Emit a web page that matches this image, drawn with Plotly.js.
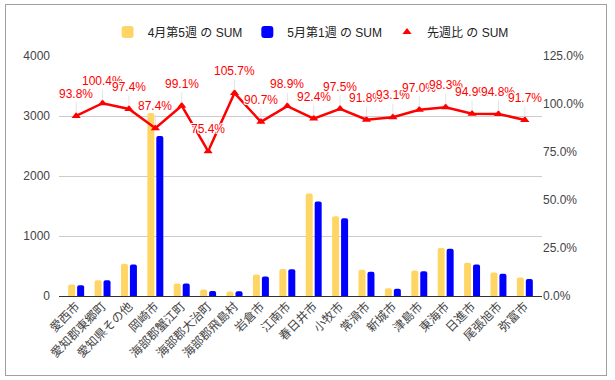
<!DOCTYPE html>
<html><head><meta charset="utf-8">
<script src="https://cdn.plot.ly/plotly-3.0.1.min.js"></script>
<style>
body{margin:0;background:#fff;}
#wrap{position:absolute;left:5px;top:4px;width:600px;height:370px;border:1px solid #a0a0a0;}
#chart{width:600px;height:370px;}
</style></head>
<body><div id="wrap"><div id="chart"></div></div>
<script>
const categories = ["愛西市","愛知郡東郷町","愛知県その他","岡崎市","海部郡蟹江町","海部郡大治町","海部郡飛島村","岩倉市","江南市","春日井市","小牧市","常滑市","新城市","津島市","東海市","日進市","尾張旭市","弥富市"];
const week4_5 = [190,262,538,3050,209,110,75,357,452,1707,1328,439,130,425,801,554,390,310];
const week5_1 = [178,263,524,2665,207,83,79,324,447,1577,1295,403,121,412,787,526,370,284];
const ratioPct = [93.8,100.4,97.4,87.4,99.1,75.4,105.7,90.7,98.9,92.4,97.5,91.8,93.1,97.0,98.3,94.9,94.8,91.7];
const seriesNames = ["4月第5週 の SUM","5月第1週 の SUM","先週比 の SUM"];

const FONT = "Arial, 'Liberation Sans', 'Noto Sans CJK JP', sans-serif";
const ratio = ratioPct.map(v => v/100);
const HALO = "1px 0 0 #fff, -1px 0 0 #fff, 0 1px 0 #fff, 0 -1px 0 #fff, 1px 1px 0 #fff, -1px -1px 0 #fff, 1px -1px 0 #fff, -1px 1px 0 #fff";

const traces = [
  {type:'bar', name:seriesNames[0], x:categories, y:week4_5, marker:{color:'#ffd666', cornerradius:2}, hoverinfo:'skip'},
  {type:'bar', name:seriesNames[1], x:categories, y:week5_1, marker:{color:'#0000ff', cornerradius:2}, hoverinfo:'skip'},
  {type:'scatter', mode:'lines', x:categories, y:ratio, yaxis:'y2', showlegend:false, line:{color:'#ff0000', width:2.5}, hoverinfo:'skip'},
  {type:'scatter', mode:'markers', name:seriesNames[2], x:categories, y:ratio, yaxis:'y2', marker:{color:'#ff0000', symbol:'triangle-up', size:8}, hoverinfo:'skip'}
];

const annotations = categories.map((c,i) => ({
  x:c, y:ratio[i], xref:'x', yref:'y2', text: ratioPct[i].toFixed(1)+'%',
  showarrow:true, arrowhead:0, arrowwidth:1, arrowcolor:'#e4e4e4', ax:0, ay:-22, standoff:3,
  font:{family:FONT, size:12, color:'#ff0000', shadow:HALO}
}));

const layout = {
  width:600, height:370,
  margin:{l:53, r:64, t:48, b:79},
  paper_bgcolor:'#fff', plot_bgcolor:'#fff',
  font:{family:FONT, size:12, color:'#444'},
  barmode:'group', bargap:0.32, bargroupgap:0.22,
  showlegend:true,
  legend:{orientation:'h', x:0.521, xanchor:'center', y:1.1, yanchor:'middle', font:{family:FONT,size:12,color:'#222'}, traceorder:'normal'},
  xaxis:{type:'category', range:[-0.65,17.65], tickangle:-45, showgrid:false, showline:false, ticks:'', tickfont:{family:FONT,size:12,color:'#444'}},
  yaxis:{range:[0,4000], dtick:1000, showgrid:true, gridcolor:'#cccccc', zeroline:true, zerolinecolor:'#333', zerolinewidth:1, ticks:'', ticklabelstandoff:8, tickfont:{family:FONT,size:12,color:'#444'}},
  yaxis2:{overlaying:'y', side:'right', range:[0,1.25], dtick:0.25, tickformat:'.1%', showgrid:false, zeroline:false, ticks:'', tickfont:{family:FONT,size:12,color:'#444'}},
  annotations: annotations
};

Plotly.newPlot('chart', traces, layout, {displayModeBar:false, staticPlot:true});
</script></body></html>
